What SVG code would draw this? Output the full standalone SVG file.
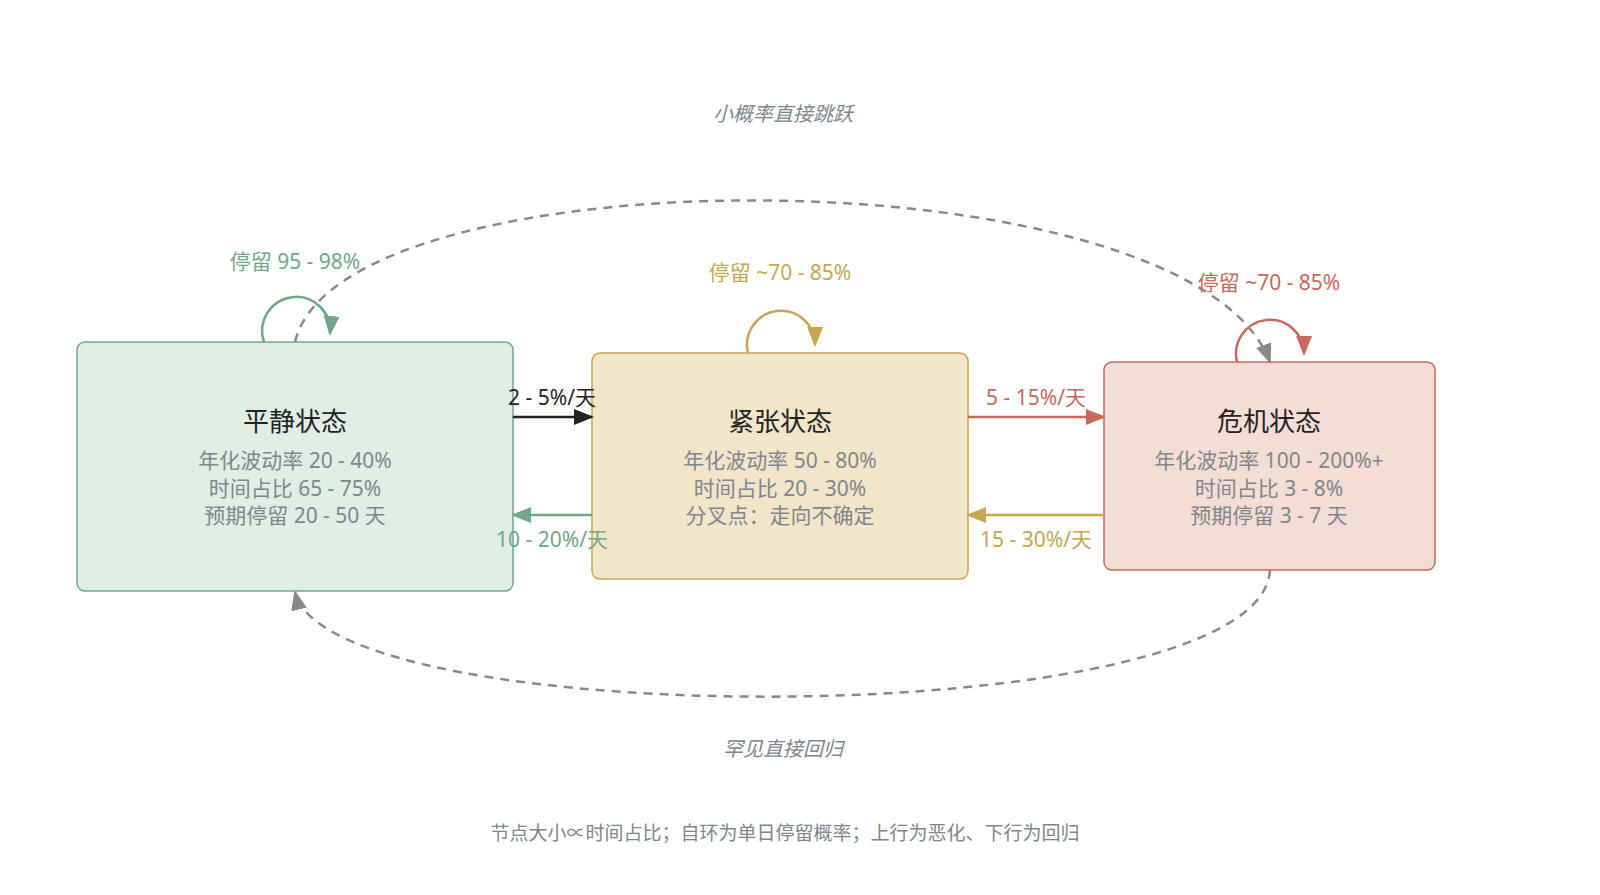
<svg xmlns="http://www.w3.org/2000/svg" width="1600" height="895" viewBox="0 0 1600 895">
<style>
text{font-family:"Noto Sans","Noto Sans CJK SC",sans-serif;text-anchor:middle}
.t{font-size:26px;fill:#222}
.d{font-size:21px;fill:#80858b}
.l{font-size:21px}
.it{font-size:20px;fill:#80858b;font-style:italic}
.dash{fill:none;stroke:#888;stroke-width:2.5;stroke-dasharray:9 7}
</style>
<defs>
<marker id="mg" viewBox="0 0 20 20" refX="18" refY="10" markerWidth="20" markerHeight="20" orient="auto" markerUnits="userSpaceOnUse"><path d="M0,2L20,10L0,18z" fill="#6fa889"/></marker>
<marker id="mo" viewBox="0 0 20 20" refX="18" refY="10" markerWidth="20" markerHeight="20" orient="auto" markerUnits="userSpaceOnUse"><path d="M0,2L20,10L0,18z" fill="#c8a550"/></marker>
<marker id="mr" viewBox="0 0 20 20" refX="18" refY="10" markerWidth="20" markerHeight="20" orient="auto" markerUnits="userSpaceOnUse"><path d="M0,2L20,10L0,18z" fill="#c8685a"/></marker>
<marker id="mb" viewBox="0 0 20 20" refX="18" refY="10" markerWidth="20" markerHeight="20" orient="auto" markerUnits="userSpaceOnUse"><path d="M0,2L20,10L0,18z" fill="#222"/></marker>
<marker id="mx" viewBox="0 0 20 20" refX="18" refY="10" markerWidth="20" markerHeight="20" orient="auto" markerUnits="userSpaceOnUse"><path d="M0,2L20,10L0,18z" fill="#888"/></marker>
</defs>
<rect width="1600" height="895" fill="#fff"/>
<g id="calm">
<rect x="77" y="342" width="436" height="249" rx="8" fill="#e1eee6" stroke="#6fa889" stroke-width="1.5"/>
<text class="t" x="295" y="431">平静状态</text>
<text class="d" x="295" y="468">年化波动率 20 - 40%</text>
<text class="d" x="295" y="496">时间占比 65 - 75%</text>
<text class="d" x="295" y="523">预期停留 20 - 50 天</text>
</g>
<g id="tense">
<rect x="592" y="353" width="376" height="226" rx="8" fill="#f1e5ca" stroke="#c8a550" stroke-width="1.5"/>
<text class="t" x="780" y="431">紧张状态</text>
<text class="d" x="780" y="468">年化波动率 50 - 80%</text>
<text class="d" x="780" y="496">时间占比 20 - 30%</text>
<text class="d" x="780" y="523">分叉点：走向不确定</text>
</g>
<g id="crisis">
<rect x="1104" y="362" width="331" height="208" rx="8" fill="#f4ddd6" stroke="#c8685a" stroke-width="1.5"/>
<text class="t" x="1269" y="431">危机状态</text>
<text class="d" x="1269" y="468">年化波动率 100 - 200%+</text>
<text class="d" x="1269" y="496">时间占比 3 - 8%</text>
<text class="d" x="1269" y="523">预期停留 3 - 7 天</text>
</g>
<g id="connectors" fill="none" stroke-width="2.5">
<path d="M264,342 A34,34 0 1 1 330,334" stroke="#6fa889" marker-end="url(#mg)"/>
<path d="M748,353 A34,34 0 1 1 815,345" stroke="#c8a550" marker-end="url(#mo)"/>
<path d="M1237,362 A34,34 0 1 1 1304,354" stroke="#c8685a" marker-end="url(#mr)"/>
<path d="M513,417H592" stroke="#222" marker-end="url(#mb)"/>
<path d="M968,417H1104" stroke="#c8685a" marker-end="url(#mr)"/>
<path d="M1104,515H968" stroke="#c8a550" marker-end="url(#mo)"/>
<path d="M592,515H513" stroke="#6fa889" marker-end="url(#mg)"/>
<path class="dash" d="M295,342C340,150 1190,150 1270,362" marker-end="url(#mx)"/>
<path class="dash" d="M1270,570C1262,735 328,735 295,592" marker-end="url(#mx)"/>
</g>
<g id="labels">
<text class="l" x="295" y="269" fill="#6fa889">停留 95 - 98%</text>
<text class="l" x="780" y="280" fill="#c8a550">停留 ~70 - 85%</text>
<text class="l" x="1269" y="290" fill="#c8685a">停留 ~70 - 85%</text>
<text class="l" x="552" y="405" fill="#222">2 - 5%/天</text>
<text class="l" x="1036" y="405" fill="#c8685a">5 - 15%/天</text>
<text class="l" x="1036" y="547" fill="#c8a550">15 - 30%/天</text>
<text class="l" x="552" y="547" fill="#6fa889">10 - 20%/天</text>
<text class="it" x="783" y="121">小概率直接跳跃</text>
<text class="it" x="783" y="756">罕见直接回归</text>
<text x="785" y="840" style="font-size:19px;fill:#80858b">节点大小∝时间占比；自环为单日停留概率；上行为恶化、下行为回归</text>
</g>
</svg>
